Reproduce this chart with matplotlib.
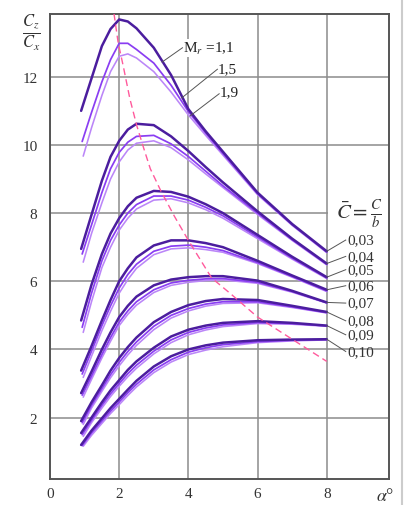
import matplotlib
matplotlib.use("Agg")
import matplotlib.pyplot as plt
from matplotlib.lines import Line2D

plt.rcParams['font.family'] = ['Liberation Serif', 'DejaVu Serif']
plt.rcParams['mathtext.fontset'] = 'stix'

# angle of attack points, deg
x_pts = [0.9, 1.2, 1.5, 1.75, 2.0, 2.25, 2.5, 3.0, 3.5, 4.0, 4.5, 5.0, 6.0, 7.0, 8.0]
x_first = [0.9, 0.93, 0.96]          # where the M=1,1 / 1,5 / 1,9 curves start
mach = ['1,1', '1,5', '1,9']
c_rel = ['0,03', '0,04', '0,05', '0,06', '0,07', '0,08', '0,09', '0,10']

# Cz/Cx, one row per relative thickness
k_m11 = [
    [11.0, 11.95, 12.9, 13.4, 13.68, 13.62, 13.42, 12.85, 12.05, 11.05, 10.4, 9.8, 8.6, 7.68, 6.88],
    [6.95, 7.95, 8.95, 9.65, 10.12, 10.45, 10.62, 10.58, 10.25, 9.82, 9.35, 8.9, 8.05, 7.25, 6.52],
    [4.85, 5.9, 6.8, 7.4, 7.85, 8.2, 8.45, 8.65, 8.62, 8.48, 8.26, 8.0, 7.36, 6.72, 6.12],
    [3.38, 4.1, 4.85, 5.45, 6.0, 6.38, 6.7, 7.05, 7.2, 7.2, 7.12, 7.0, 6.6, 6.17, 5.75],
    [2.72, 3.35, 4.0, 4.5, 4.95, 5.28, 5.55, 5.88, 6.05, 6.12, 6.15, 6.15, 6.02, 5.72, 5.38],
    [1.9, 2.45, 2.95, 3.38, 3.75, 4.07, 4.35, 4.8, 5.1, 5.3, 5.42, 5.48, 5.45, 5.28, 5.1],
    [1.55, 2.0, 2.45, 2.8, 3.1, 3.4, 3.65, 4.05, 4.38, 4.58, 4.7, 4.78, 4.83, 4.78, 4.7],
    [1.2, 1.62, 1.98, 2.28, 2.55, 2.82, 3.08, 3.5, 3.8, 4.0, 4.12, 4.2, 4.27, 4.29, 4.3],
]
k_m15 = [
    [10.1, 10.95, 11.85, 12.5, 12.98, 12.98, 12.8, 12.4, 11.75, 10.98, 10.35, 9.75, 8.57, 7.66, 6.86],
    [6.8, 7.65, 8.6, 9.3, 9.78, 10.08, 10.25, 10.28, 10.03, 9.66, 9.23, 8.8, 8.0, 7.22, 6.5],
    [4.65, 5.65, 6.6, 7.2, 7.65, 8.0, 8.25, 8.5, 8.5, 8.38, 8.17, 7.92, 7.3, 6.68, 6.1],
    [3.28, 3.95, 4.7, 5.28, 5.8, 6.2, 6.5, 6.88, 7.03, 7.06, 7.0, 6.9, 6.55, 6.14, 5.72],
    [2.66, 3.22, 3.85, 4.35, 4.8, 5.13, 5.4, 5.75, 5.95, 6.03, 6.07, 6.08, 5.97, 5.7, 5.37],
    [1.85, 2.36, 2.85, 3.26, 3.62, 3.94, 4.22, 4.68, 5.0, 5.2, 5.33, 5.4, 5.4, 5.25, 5.08],
    [1.5, 1.92, 2.36, 2.7, 3.0, 3.29, 3.54, 3.95, 4.28, 4.5, 4.63, 4.72, 4.79, 4.76, 4.69],
    [1.18, 1.55, 1.9, 2.19, 2.46, 2.73, 2.98, 3.4, 3.7, 3.92, 4.05, 4.14, 4.23, 4.27, 4.29],
]
k_m19 = [
    [9.67, 10.5, 11.45, 12.15, 12.6, 12.67, 12.55, 12.15, 11.55, 10.88, 10.28, 9.7, 8.54, 7.64, 6.84],
    [6.56, 7.4, 8.3, 9.0, 9.5, 9.85, 10.05, 10.12, 9.92, 9.56, 9.15, 8.75, 7.96, 7.2, 6.48],
    [4.5, 5.4, 6.4, 7.0, 7.5, 7.85, 8.12, 8.38, 8.42, 8.3, 8.1, 7.85, 7.25, 6.65, 6.08],
    [3.18, 3.8, 4.55, 5.12, 5.65, 6.05, 6.38, 6.78, 6.95, 6.98, 6.93, 6.85, 6.52, 6.12, 5.7],
    [2.6, 3.12, 3.75, 4.24, 4.7, 5.03, 5.3, 5.67, 5.88, 5.97, 6.02, 6.04, 5.94, 5.68, 5.36],
    [1.8, 2.28, 2.77, 3.17, 3.52, 3.84, 4.12, 4.58, 4.92, 5.13, 5.27, 5.35, 5.37, 5.23, 5.07],
    [1.45, 1.85, 2.28, 2.62, 2.92, 3.2, 3.45, 3.87, 4.2, 4.43, 4.57, 4.67, 4.76, 4.74, 4.68],
    [1.16, 1.48, 1.83, 2.12, 2.38, 2.65, 2.9, 3.32, 3.63, 3.85, 3.98, 4.08, 4.2, 4.25, 4.28],
]

# line through the maxima
max_x = [1.85, 1.97, 2.12, 2.31, 2.51, 2.71, 2.9, 3.2, 3.6, 4.0, 4.67, 5.26, 6.0, 7.0, 8.0]
max_y = [13.85, 13.0, 12.3, 11.35, 10.56, 9.9, 9.3, 8.66, 7.9, 7.2, 6.1, 5.6, 4.95, 4.3, 3.65]

colors = ['#4b1d9e', '#8a3df2', '#bb86f8']
widths = [1.8, 1.25, 1.15]
label_y = [7.21, 6.73, 6.34, 5.87, 5.36, 4.84, 4.43, 3.94]

fig = plt.figure(figsize=(4.06, 5.06), dpi=100)
ax = fig.add_axes([50/406, 1 - 480/506, 339/406, 465/506])

for i, k in enumerate(mach):
    data = [k_m11, k_m15, k_m19][i]
    xs = [x_first[i]] + x_pts[1:]
    for row in data:
        ax.plot(xs, row, color=colors[i], lw=widths[i], zorder=5 - i,
                solid_capstyle='round', solid_joinstyle='round')

ax.plot(max_x, max_y, color='#ff5a9c', lw=1.0, ls=(0, (5, 3)), zorder=6)

ax.set_xlim(0, 9.8)
ax.set_ylim(0.2, 13.84)
ax.set_xticks([0, 2, 4, 6, 8])
ax.set_yticks([2, 4, 6, 8, 10, 12])
ax.grid(True, color='#8c8c8c', lw=1.1)
ax.set_axisbelow(True)
for s in ax.spines.values():
    s.set_color('#555555')
    s.set_linewidth(1.4)
ax.tick_params(axis='both', length=0, labelsize=11, labelcolor='#333333')
ax.tick_params(axis='y', pad=9)
ax.tick_params(axis='x', pad=6)
ax.annotate(r'$\alpha$°', xy=(9.68, 0), xycoords=('data', 'axes fraction'),
            xytext=(0, -6), textcoords='offset points', ha='center', va='top',
            fontsize=13, color='#333333', annotation_clip=False)

fig.text(31/406, 1 - 33/506, r'$\frac{C_z}{C_x}$', ha='center', va='center',
         fontsize=17, color='#333333')

# Mach labels
box = dict(facecolor='white', edgecolor='none', pad=0.5)
ax.text(3.85, 12.85, r'M$_r$ =1,1', fontsize=11, va='center', color='#222222', bbox=box, zorder=7)
ax.text(4.86, 12.25, '1,5', fontsize=11, va='center', color='#222222', zorder=7)
ax.text(4.91, 11.55, '1,9', fontsize=11, va='center', color='#222222', zorder=7)
ax.plot([3.24, 3.83], [12.43, 12.85], color='#555555', lw=0.7, zorder=7)
ax.plot([3.81, 4.84], [11.38, 12.22], color='#555555', lw=0.7, zorder=7)
ax.plot([4.05, 4.89], [10.85, 11.5], color='#555555', lw=0.7, zorder=7)

# thickness labels
ax.fill_between([8.03, 9.77], 7.55, 8.45, color='white', lw=0, zorder=1)
ax.text(8.95, 8.0, r'$\bar{C}=\frac{C}{b}$', fontsize=15, ha='center', va='center',
        color='#333333', zorder=7)
for j, lab in enumerate(c_rel):
    ax.plot([8.0, 8.55], [k_m11[j][-1], label_y[j]], color='#555555', lw=0.7, zorder=7)
    ax.text(8.6, label_y[j], lab, fontsize=11, va='center', color='#333333', zorder=7)

fig.add_artist(Line2D([402/406, 402/406], [0, 1], color='#cccccc', lw=1.5))

fig.savefig('out.png', dpi=100)
